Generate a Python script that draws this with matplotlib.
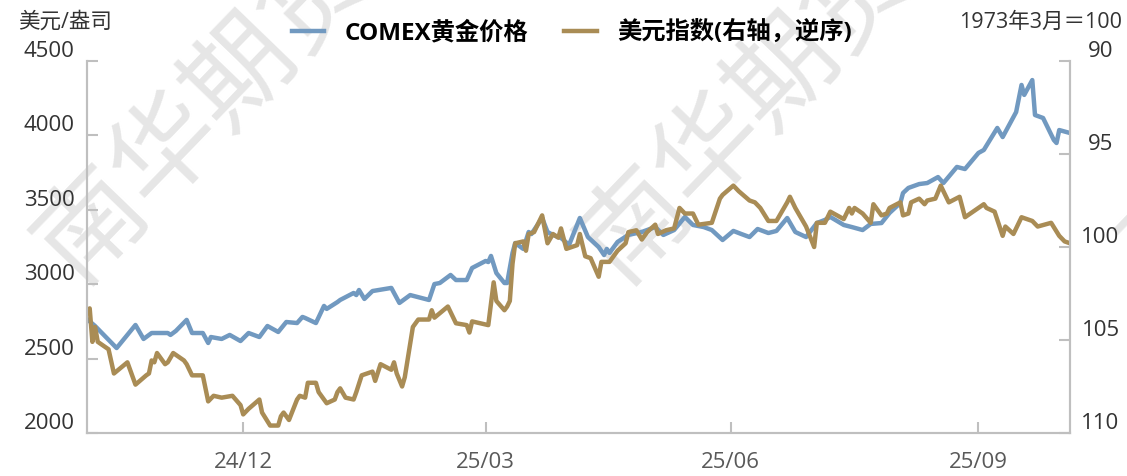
import matplotlib
matplotlib.use('Agg')
import matplotlib.pyplot as plt
import matplotlib.transforms as mtransforms
import numpy as np
import pandas as pd

plt.rcParams['font.family'] = ['Open Sans', 'Noto Sans CJK SC', 'DejaVu Sans']

# COMEX gold, USD/oz
gold_dates = ["2024-11-03","2024-11-06","2024-11-14","2024-11-21","2024-11-24","2024-11-27","2024-12-03","2024-12-04",
              "2024-12-06","2024-12-10","2024-12-12","2024-12-16","2024-12-18","2024-12-19","2024-12-23","2024-12-26",
              "2024-12-30","2025-01-02","2025-01-06","2025-01-09","2025-01-13","2025-01-16","2025-01-20","2025-01-22",
              "2025-01-23","2025-01-27","2025-01-30","2025-01-31","2025-02-04","2025-02-05","2025-02-10","2025-02-11",
              "2025-02-12","2025-02-14","2025-02-17","2025-02-24","2025-02-27","2025-03-03","2025-03-10","2025-03-12",
              "2025-03-14","2025-03-18","2025-03-20","2025-03-24","2025-03-26","2025-03-31","2025-04-01","2025-04-02",
              "2025-04-04","2025-04-07","2025-04-08","2025-04-10","2025-04-11","2025-04-14","2025-04-16","2025-04-17",
              "2025-04-21","2025-04-23","2025-04-25","2025-04-28","2025-05-01","2025-05-05","2025-05-08","2025-05-12",
              "2025-05-14","2025-05-15","2025-05-16","2025-05-19","2025-05-23","2025-05-28","2025-06-02","2025-06-05",
              "2025-06-09","2025-06-13","2025-06-16","2025-06-20","2025-06-23","2025-06-27","2025-07-01","2025-07-04",
              "2025-07-07","2025-07-10","2025-07-14","2025-07-17","2025-07-21","2025-07-24","2025-07-28","2025-08-01",
              "2025-08-04","2025-08-06","2025-08-11","2025-08-14","2025-08-18","2025-08-21","2025-08-25","2025-08-28",
              "2025-09-01","2025-09-02","2025-09-04","2025-09-08","2025-09-11","2025-09-15","2025-09-17","2025-09-22",
              "2025-09-25","2025-09-30","2025-10-02","2025-10-07","2025-10-09","2025-10-14","2025-10-16","2025-10-17",
              "2025-10-20","2025-10-21","2025-10-24","2025-10-28","2025-10-29","2025-10-30","2025-11-03"]
gold_vals = [2766,2719,2571,2726,2632,2672,2672,2659,
             2686,2760,2672,2672,2605,2645,2632,2659,
             2618,2672,2645,2719,2679,2746,2739,2780,
             2773,2739,2854,2834,2880,2894,2941,2927,
             2961,2901,2954,2975,2874,2927,2894,3001,
             3008,3062,3028,3028,3109,3156,3149,3190,
             3075,3008,3008,3210,3277,3237,3351,3337,
             3445,3351,3331,3311,3264,3445,3317,3250,
             3196,3237,3210,3284,3331,3351,3384,3331,
             3364,3452,3398,3384,3364,3297,3358,3337,
             3317,3371,3344,3358,3445,3351,3317,3411,
             3432,3452,3398,3384,3364,3405,3411,3479,
             3546,3613,3647,3673,3680,3720,3680,3788,
             3774,3882,3902,4050,3989,4157,4339,4272,
             4372,4137,4117,3969,3949,4036,4016]

# US dollar index (right axis, reversed)
dxy_dates = ["2024-11-03","2024-11-04","2024-11-05","2024-11-06","2024-11-07","2024-11-11","2024-11-13","2024-11-18",
             "2024-11-21","2024-11-25","2024-11-26","2024-11-27","2024-11-28","2024-11-29","2024-12-02","2024-12-03",
             "2024-12-05","2024-12-09","2024-12-10","2024-12-12","2024-12-16","2024-12-18","2024-12-20","2024-12-23",
             "2024-12-27","2024-12-30","2024-12-31","2025-01-02","2025-01-06","2025-01-07","2025-01-10","2025-01-13",
             "2025-01-14","2025-01-15","2025-01-17","2025-01-20","2025-01-21","2025-01-23","2025-01-24","2025-01-27",
             "2025-01-28","2025-01-31","2025-02-03","2025-02-04","2025-02-05","2025-02-07","2025-02-10","2025-02-11",
             "2025-02-13","2025-02-17","2025-02-18","2025-02-20","2025-02-24","2025-02-25","2025-02-26","2025-02-28",
             "2025-03-01","2025-03-04","2025-03-06","2025-03-10","2025-03-11","2025-03-12","2025-03-17","2025-03-20",
             "2025-03-24","2025-03-25","2025-03-26","2025-04-01","2025-04-03","2025-04-04","2025-04-07","2025-04-08",
             "2025-04-09","2025-04-10","2025-04-11","2025-04-14","2025-04-15","2025-04-16","2025-04-18","2025-04-21",
             "2025-04-23","2025-04-25","2025-04-27","2025-04-28","2025-04-30","2025-05-04","2025-05-05","2025-05-07",
             "2025-05-09","2025-05-12","2025-05-13","2025-05-16","2025-05-19","2025-05-22","2025-05-23","2025-05-26",
             "2025-05-28","2025-05-30","2025-06-02","2025-06-03","2025-06-06","2025-06-09","2025-06-11","2025-06-13",
             "2025-06-16","2025-06-18","2025-06-23","2025-06-26","2025-06-27","2025-07-01","2025-07-03","2025-07-07",
             "2025-07-09","2025-07-11","2025-07-14","2025-07-17","2025-07-21","2025-07-22","2025-07-24","2025-07-28",
             "2025-07-31","2025-08-01","2025-08-04","2025-08-06","2025-08-11","2025-08-13","2025-08-14","2025-08-15",
             "2025-08-18","2025-08-21","2025-08-22","2025-08-25","2025-08-27","2025-08-28","2025-09-01","2025-09-02",
             "2025-09-04","2025-09-05","2025-09-08","2025-09-10","2025-09-11","2025-09-14","2025-09-16","2025-09-19",
             "2025-09-23","2025-09-25","2025-09-29","2025-10-02","2025-10-03","2025-10-06","2025-10-09","2025-10-10",
             "2025-10-13","2025-10-16","2025-10-20","2025-10-22","2025-10-27","2025-10-30","2025-11-01","2025-11-03"]
dxy_vals = [103.5,103.3,105.1,104.3,105.1,105.5,106.8,106.2,
            107.4,106.9,106.8,106.1,106.2,105.7,106.3,106.2,
            105.7,106.1,106.3,106.9,106.9,108.3,108.0,108.1,
            108.0,108.5,109.0,108.7,108.2,108.9,109.6,109.6,
            109.1,108.9,109.3,108.2,108.0,108.1,107.3,107.3,
            107.8,108.4,108.2,107.8,107.6,108.1,108.2,107.8,
            106.9,106.7,107.2,106.3,106.6,106.2,106.8,107.5,
            107.0,104.3,103.9,103.9,103.4,103.8,103.2,104.1,
            104.2,104.6,104.0,104.2,101.9,102.9,103.4,103.2,
            102.9,100.9,99.8,99.7,100.2,99.3,99.2,98.3,
            99.8,99.3,99.5,99.0,100.1,99.9,99.3,100.5,
            100.6,101.6,100.8,100.8,100.2,99.8,99.2,99.1,
            99.6,99.2,98.8,99.3,99.1,99.0,97.9,98.2,
            98.2,98.8,98.7,97.4,97.2,96.7,97.0,97.5,
            97.6,97.9,98.6,98.6,97.6,97.3,97.9,98.9,
            100.0,98.7,98.7,98.1,98.5,97.9,98.2,97.9,
            98.2,98.7,97.7,98.3,98.2,97.9,97.6,98.3,
            98.2,97.6,97.4,97.7,97.5,97.4,96.7,97.6,
            97.3,98.4,98.0,97.7,97.9,98.1,99.4,98.9,
            99.3,98.4,98.6,98.9,98.7,99.4,99.7,99.8]

tick_dates = ["2024-12-31", "2025-03-31", "2025-06-30", "2025-09-30"]
tick_labels = ["24/12", "25/03", "25/06", "25/09"]
left_ticks = [2000, 2500, 3000, 3500, 4000, 4500]
right_ticks = [90, 95, 100, 105, 110]

W, H = 1127, 476
fig = plt.figure(figsize=(W / 100, H / 100), dpi=100)
ax = fig.add_axes([87 / W, 1 - 433 / H, (1070 - 87) / W, (433 - 61) / H])
ax.patch.set_visible(False)
ax2 = ax.twinx()

# watermark behind everything
for cx in [204, 747, 1290]:
    fig.text(cx / W, 1 - 110 / H, '南华期货', fontsize=77, color='#e6e6e6', rotation=46,
             ha='center', va='center', rotation_mode='anchor', family=['Noto Sans CJK SC'], zorder=-1)

blue = '#7199c0'
brown = '#a98c55'
l1, = ax.plot(pd.to_datetime(gold_dates), gold_vals, color=blue, lw=3.2, solid_joinstyle='round')
l2, = ax2.plot(pd.to_datetime(dxy_dates), dxy_vals, color=brown, lw=3.2, solid_joinstyle='round')
# dollar line drawn over the gold line
ax.set_zorder(1)
ax2.set_zorder(2)

ax.set_xlim(pd.Timestamp("2024-11-03"), pd.Timestamp("2025-11-03"))
ax.set_ylim(2000, 4500)
ax2.set_ylim(110, 90)
ax.set_yticks(left_ticks)
ax2.set_yticks(right_ticks)
ax.set_xticks(pd.to_datetime(tick_dates))
ax.set_xticklabels(tick_labels)

grey = '#bfbfbf'
for a in (ax, ax2):
    for s in a.spines.values():
        s.set_color(grey)
        s.set_linewidth(1.5)
    a.spines['top'].set_visible(False)

ax.tick_params(axis='y', direction='in', length=8, width=1.5, color=grey, pad=9,
               labelsize=16, labelcolor='#333333')
ax.tick_params(axis='x', direction='in', length=8, width=1.5, color=grey, pad=14,
               labelsize=16, labelcolor='#595959')
ax2.tick_params(axis='y', direction='in', length=8, width=1.5, color=grey, pad=22,
                labelsize=16, labelcolor='#333333')

# labels sit a little above their ticks
up = mtransforms.ScaledTranslation(0, 12 / 100, fig.dpi_scale_trans)
for lab in ax.get_yticklabels():
    lab.set_transform(lab.get_transform() + up)
for lab in ax2.get_yticklabels():
    lab.set_transform(lab.get_transform() + up)
    lab.set_horizontalalignment('center')

fig.text(18 / W, 1 - 22 / H, '美元/盎司', fontsize=15.5, color='#333333', ha='left', va='center')
fig.text(1122 / W, 1 - 22 / H, '1973年3月＝100', fontsize=15.5, color='#333333', ha='right', va='center')

fig.legend([l1, l2], ['COMEX黄金价格', '美元指数(右轴，逆序)'], loc='center', ncol=2,
           bbox_to_anchor=(572 / W, 1 - 33 / H), frameon=False,
           prop={'size': 17.5, 'weight': 'bold'}, handlelength=1.32, handletextpad=0.86,
           columnspacing=1.48, borderaxespad=0)

fig.savefig('out.png', dpi=100)
